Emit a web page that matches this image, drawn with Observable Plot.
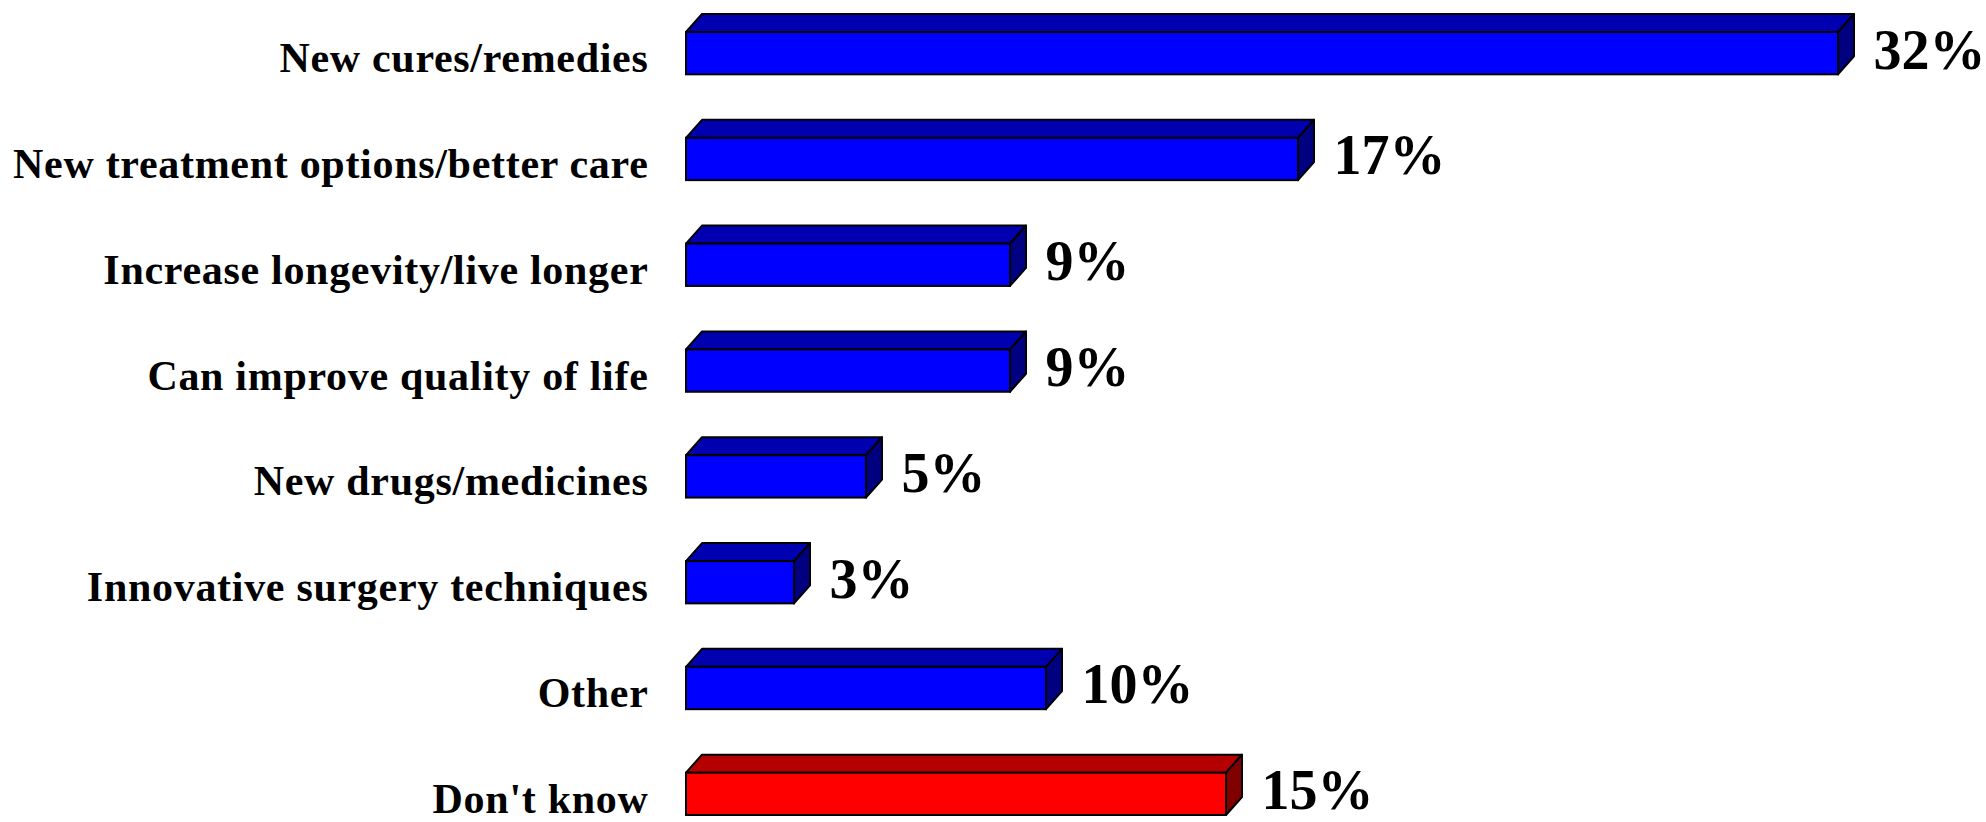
<!DOCTYPE html>
<html>
<head>
<meta charset="utf-8">
<script src="https://cdn.jsdelivr.net/npm/d3@7"></script>
<script src="https://cdn.jsdelivr.net/npm/@observablehq/plot@0.6"></script>
<style>
  html, body { margin: 0; padding: 0; background: #ffffff; }
  #chart svg { display: block; }
  #chart svg g[aria-label="y-axis tick label"] text { letter-spacing: 0.7px; }
</style>
</head>
<body>
<div id="chart"></div>
<script>
// ---- data ----
const categories = [
  "New cures/remedies",
  "New treatment options/better care",
  "Increase longevity/live longer",
  "Can improve quality of life",
  "New drugs/medicines",
  "Innovative surgery techniques",
  "Other",
  "Don't know"
];
const values = [32, 17, 9, 9, 5, 3, 10, 15];
const groups = ["answer", "answer", "answer", "answer", "answer", "answer", "answer", "dontknow"];

const frontColors = {answer: "#0000ff", dontknow: "#ff0000"};
const topColors   = {answer: "#0000b0", dontknow: "#b40000"};
const sideColors  = {answer: "#000080", dontknow: "#800000"};

const data = categories.map((c, i) => ({cat: c, value: values[i], group: groups[i]}));

// 3-D depth of the bars (pixels)
const DEPTH_X = 16, DEPTH_Y = -18;

function depthFaces(index, scales, vals) {
  const g = d3.create("svg:g");
  const bw = scales.y.bandwidth();
  for (const i of index) {
    const a = Math.min(vals.x1[i], vals.x2[i]);
    const b = Math.max(vals.x1[i], vals.x2[i]);
    const y0 = vals.y[i], y1 = y0 + bw;
    const grp = data[i].group;
    g.append("path")
      .attr("d", `M${a},${y0}L${a + DEPTH_X},${y0 + DEPTH_Y}L${b + DEPTH_X},${y0 + DEPTH_Y}L${b},${y0}Z`)
      .attr("fill", topColors[grp]).attr("stroke", "#000").attr("stroke-width", 2).attr("stroke-linejoin", "round");
    g.append("path")
      .attr("d", `M${b},${y0}L${b + DEPTH_X},${y0 + DEPTH_Y}L${b + DEPTH_X},${y1 + DEPTH_Y}L${b},${y1}Z`)
      .attr("fill", sideColors[grp]).attr("stroke", "#000").attr("stroke-width", 2).attr("stroke-linejoin", "round");
  }
  return g.node();
}

const chart = Plot.plot({
  width: 1986,
  height: 822,
  marginLeft: 686,
  marginRight: 148,
  marginTop: 32,
  marginBottom: 7,
  style: {fontFamily: "'Liberation Serif', 'Times New Roman', serif", background: "#ffffff", color: "#000"},
  x: {domain: [0, 32], axis: null},
  y: {domain: categories, paddingInner: 0.6, paddingOuter: 0, align: 0, round: false, label: null, axis: null},
  marks: [
    Plot.barX(data, {x: "value", y: "cat", render: depthFaces}),
    Plot.barX(data, {x: "value", y: "cat", fill: d => frontColors[d.group], stroke: "#000", strokeWidth: 2}),
    Plot.axisY({tickSize: 0, tickPadding: 38, fontSize: 42, fontWeight: "bold", dy: 5, label: null}),
    Plot.text(data, {
      x: "value", y: "cat", text: d => `${d.value}%`,
      textAnchor: "start", dx: 35, dy: -3, fontSize: 56, fontWeight: "bold", fill: "#000"
    })
  ]
});
document.getElementById("chart").appendChild(chart);
</script>
</body>
</html>
